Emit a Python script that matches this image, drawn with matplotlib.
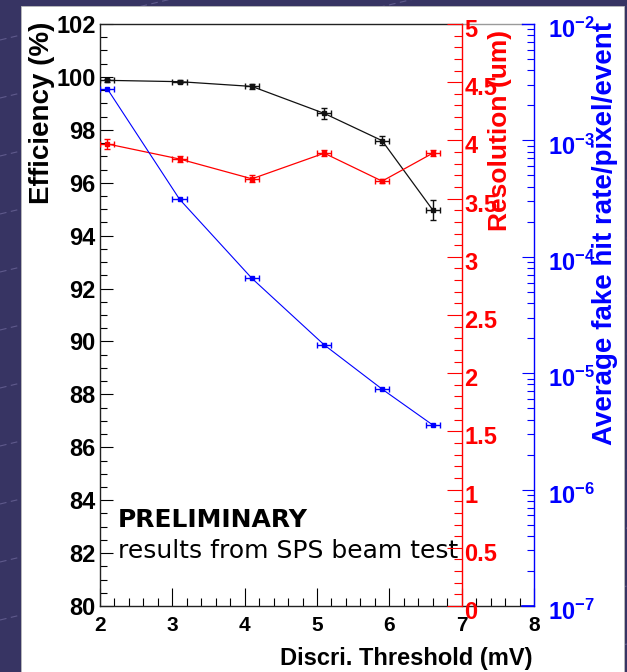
import matplotlib
matplotlib.use('Agg')
import matplotlib.pyplot as plt
from matplotlib.patches import Rectangle
from matplotlib.lines import Line2D
from matplotlib.ticker import MultipleLocator, NullFormatter
from matplotlib.transforms import ScaledTranslation

plt.rcParams['font.family'] = ['Liberation Sans', 'DejaVu Sans']
plt.rcParams['font.weight'] = 'bold'
plt.rcParams['mathtext.fontset'] = 'custom'
plt.rcParams['mathtext.bf'] = 'Liberation Sans:bold'
plt.rcParams['mathtext.rm'] = 'Liberation Sans:bold'

# data
threshold = [2.1, 3.1, 4.1, 5.1, 5.9, 6.6]
threshold_err = [0.1, 0.1, 0.1, 0.1, 0.1, 0.1]
efficiency = [99.87, 99.82, 99.64, 98.62, 97.59, 94.97]
efficiency_err = [0.06, 0.05, 0.08, 0.2, 0.18, 0.38]
resolution = [3.97, 3.84, 3.67, 3.89, 3.65, 3.89]
resolution_err = [0.04, 0.025, 0.03, 0.025, 0.02, 0.025]
fake_rate = [2.78e-3, 3.12e-4, 6.53e-5, 1.75e-5, 7.3e-6, 3.59e-6]

x_ticks = [2, 3, 4, 5, 6, 7, 8]
eff_ticks = [80, 82, 84, 86, 88, 90, 92, 94, 96, 98, 100, 102]
res_ticks = [0, 0.5, 1, 1.5, 2, 2.5, 3, 3.5, 4, 4.5, 5]
res_labels = ['0', '0.5', '1', '1.5', '2', '2.5', '3', '3.5', '4', '4.5', '5']
rate_ticks = [1e-7, 1e-6, 1e-5, 1e-4, 1e-3, 1e-2]
rate_labels = [r'$\mathbf{10^{-7}}$', r'$\mathbf{10^{-6}}$', r'$\mathbf{10^{-5}}$',
               r'$\mathbf{10^{-4}}$', r'$\mathbf{10^{-3}}$', r'$\mathbf{10^{-2}}$']

W, H = 627, 672


def fx(x):
    return x / W


def fy(y):
    return 1 - y / H


fig = plt.figure(figsize=(W / 100, H / 100), dpi=100, facecolor='#373463')

# slide background: faint diagonal dashes, then the white sheet
for i in range(14):
    y0 = 40 + i * 58
    fig.add_artist(Line2D([fx(0), fx(W)], [fy(y0), fy(y0 - 150)], color='#5f5a8c',
                          lw=0.8, ls=(0, (6, 4)), zorder=-2))
fig.add_artist(Rectangle((fx(21), 0), fx(603), 1 - 6 / H, transform=fig.transFigure,
                         facecolor='white', edgecolor='#bbbbbb', lw=0.6, zorder=-1))

ax = fig.add_axes([fx(100), fy(606), fx(434), (606 - 24) / H])
ax.patch.set_visible(False)
ax.set_xlim(2, 8)
ax.set_ylim(80, 102)
ax.spines['right'].set_visible(False)
ax.spines['top'].set_bounds(2, 7)
for s in ['left', 'bottom', 'top']:
    ax.spines[s].set_linewidth(1.0)
    ax.spines[s].set_color('#222222')

ax.axhline(102, xmin=5 / 6, xmax=0.972, color='#9a9a9a', lw=1.0, clip_on=False)
ax.axhline(102, xmin=0.972, xmax=1, color='blue', lw=1.0, clip_on=False)
ax.axhline(80, xmin=0.972, xmax=1, color='blue', lw=1.2, clip_on=False, zorder=5)

ax.set_xticks(x_ticks)
ax.xaxis.set_minor_locator(MultipleLocator(0.2))
ax.set_yticks(eff_ticks)
ax.yaxis.set_minor_locator(MultipleLocator(0.5))
ax.tick_params(axis='x', which='major', direction='in', length=13, width=0.8,
               labelsize=15, pad=7, top=False)
ax.tick_params(axis='x', which='minor', direction='in', length=6, width=0.8, top=False)
ax.tick_params(axis='y', which='major', direction='in', length=9.5, width=0.8,
               labelsize=17, pad=3, right=False)
ax.tick_params(axis='y', which='minor', direction='in', length=5, width=0.8, right=False)

ax.errorbar(threshold, efficiency, xerr=threshold_err, yerr=efficiency_err,
            color='#111111', lw=0.9, elinewidth=1.0, capsize=2.5, capthick=1.0,
            marker='s', ms=3, zorder=4)

ax.text(2.25, 82.98, 'PRELIMINARY', family='DejaVu Sans', fontsize=18,
        fontweight='bold', va='baseline', color='black')
ax.text(2.25, 81.82, 'results from SPS beam test', family='DejaVu Sans', fontsize=18,
        fontweight='normal', va='baseline', color='black')

# resolution axis, sitting at x = 7
ax2 = ax.twinx()
ax2.patch.set_visible(False)
for s in ['left', 'top', 'bottom']:
    ax2.spines[s].set_visible(False)
ax2.spines['right'].set_position(('axes', 5 / 6))
ax2.spines['right'].set_color('red')
ax2.spines['right'].set_linewidth(1.0)
ax2.set_ylim(0, 5)
ax2.set_yticks(res_ticks)
ax2.set_yticklabels(res_labels)
ax2.yaxis.set_minor_locator(MultipleLocator(0.1))
ax2.tick_params(axis='y', which='major', direction='in', length=11, width=0.8,
                colors='red', labelsize=17, pad=2)
ax2.tick_params(axis='y', which='minor', direction='in', length=6, width=0.8, colors='red')
ax2.errorbar(threshold, resolution, xerr=threshold_err, yerr=resolution_err,
             color='red', lw=0.9, elinewidth=1.0, capsize=2.5, capthick=1.0,
             marker='s', ms=3, zorder=4)

# fake hit rate axis, at x = 8
ax3 = ax.twinx()
ax3.patch.set_visible(False)
for s in ['left', 'top', 'bottom']:
    ax3.spines[s].set_visible(False)
ax3.spines['right'].set_color('blue')
ax3.spines['right'].set_linewidth(1.0)
ax3.set_yscale('log')
ax3.set_ylim(1e-7, 1e-2)
ax3.set_yticks(rate_ticks)
ax3.set_yticklabels(rate_labels)
ax3.yaxis.set_minor_formatter(NullFormatter())
ax3.tick_params(axis='y', which='major', direction='in', length=9, width=0.8,
                colors='blue', labelsize=17, pad=10)
ax3.tick_params(axis='y', which='minor', direction='in', length=5, width=0.8, colors='blue')
ax3.errorbar(threshold, fake_rate, xerr=threshold_err,
             color='blue', lw=0.8, elinewidth=1.0, capsize=2.5, capthick=1.0,
             marker='s', ms=3, zorder=4)

# ROOT puts the right-hand labels a little below their ticks
shift = ScaledTranslation(0, -4 / 100, fig.dpi_scale_trans)
for lbl in ax2.get_yticklabels() + ax3.get_yticklabels():
    lbl.set_transform(lbl.get_transform() + shift)

fig.text(fx(42), fy(22), 'Efficiency (%)', rotation=90, ha='center', va='top',
         fontsize=20, fontweight='bold', color='black')
fig.text(fx(500), fy(30), 'Resolution (um)', rotation=90, ha='center', va='top',
         fontsize=19, fontweight='bold', color='red')
fig.text(fx(605), fy(22), 'Average fake hit rate/pixel/event', rotation=90, ha='center',
         va='top', fontsize=20, fontweight='bold', color='blue')
fig.text(fx(532), fy(658), 'Discri. Threshold (mV)', ha='right', va='center',
         fontsize=17, fontweight='bold', color='black')

fig.savefig('out.png', dpi=100, facecolor=fig.get_facecolor())
